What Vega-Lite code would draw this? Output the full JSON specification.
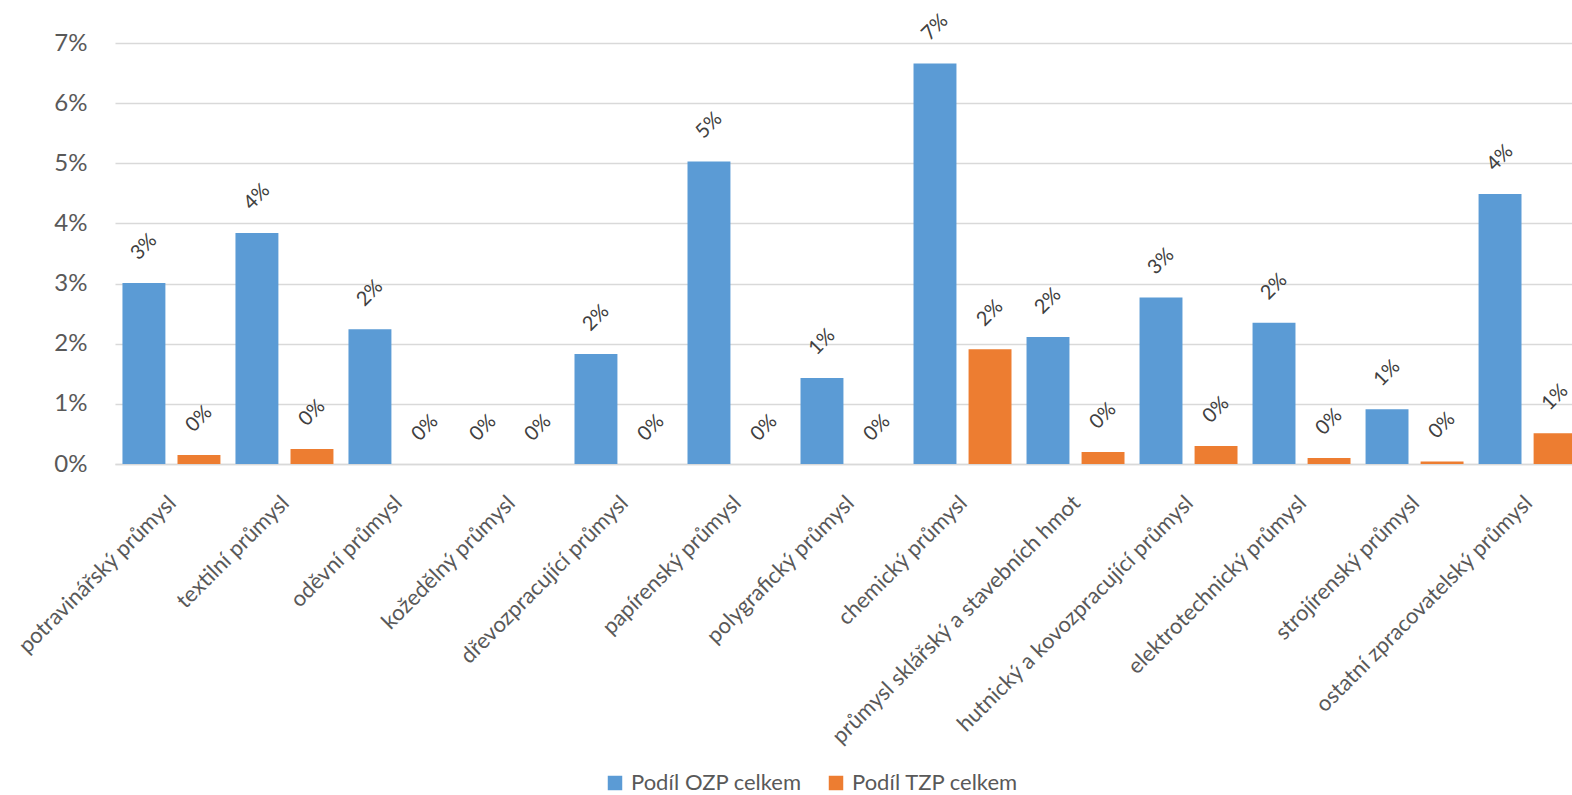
{
  "$schema": "https://vega.github.io/schema/vega-lite/v6.json",
  "width": 1457,
  "height": 421,
  "autosize": {"type": "none"},
  "padding": {"left": 115, "top": 43, "right": 0, "bottom": 331},
  "background": "white",
  "config": {
    "font": "Lato",
    "view": {"stroke": null},
    "legend": {
      "orient": "none",
      "legendX": 489,
      "legendY": 729,
      "direction": "horizontal",
      "title": null,
      "symbolType": "square",
      "symbolSize": 210,
      "symbolStrokeWidth": 0,
      "labelFontSize": 22,
      "labelColor": "#595959",
      "labelFont": "Lato",
      "labelLimit": 400,
      "labelOffset": 5,
      "columnPadding": 23
    }
  },
  "data": {
    "values": [
      {"odvetvi": "potravinářský průmysl", "rada": "Podíl OZP celkem", "hodnota": 0.0301},
      {"odvetvi": "potravinářský průmysl", "rada": "Podíl TZP celkem", "hodnota": 0.0015},
      {"odvetvi": "textilní průmysl", "rada": "Podíl OZP celkem", "hodnota": 0.0384},
      {"odvetvi": "textilní průmysl", "rada": "Podíl TZP celkem", "hodnota": 0.0025},
      {"odvetvi": "oděvní průmysl", "rada": "Podíl OZP celkem", "hodnota": 0.0224},
      {"odvetvi": "oděvní průmysl", "rada": "Podíl TZP celkem", "hodnota": 0.0},
      {"odvetvi": "kožedělný průmysl", "rada": "Podíl OZP celkem", "hodnota": 0.0},
      {"odvetvi": "kožedělný průmysl", "rada": "Podíl TZP celkem", "hodnota": 0.0},
      {"odvetvi": "dřevozpracující průmysl", "rada": "Podíl OZP celkem", "hodnota": 0.0183},
      {"odvetvi": "dřevozpracující průmysl", "rada": "Podíl TZP celkem", "hodnota": 0.0},
      {"odvetvi": "papírenský průmysl", "rada": "Podíl OZP celkem", "hodnota": 0.0503},
      {"odvetvi": "papírenský průmysl", "rada": "Podíl TZP celkem", "hodnota": 0.0},
      {"odvetvi": "polygrafický průmysl", "rada": "Podíl OZP celkem", "hodnota": 0.0143},
      {"odvetvi": "polygrafický průmysl", "rada": "Podíl TZP celkem", "hodnota": 0.0},
      {"odvetvi": "chemický průmysl", "rada": "Podíl OZP celkem", "hodnota": 0.0666},
      {"odvetvi": "chemický průmysl", "rada": "Podíl TZP celkem", "hodnota": 0.0191},
      {"odvetvi": "průmysl sklářský a stavebních hmot", "rada": "Podíl OZP celkem", "hodnota": 0.0211},
      {"odvetvi": "průmysl sklářský a stavebních hmot", "rada": "Podíl TZP celkem", "hodnota": 0.002},
      {"odvetvi": "hutnický a kovozpracující průmysl", "rada": "Podíl OZP celkem", "hodnota": 0.0277},
      {"odvetvi": "hutnický a kovozpracující průmysl", "rada": "Podíl TZP celkem", "hodnota": 0.003},
      {"odvetvi": "elektrotechnický průmysl", "rada": "Podíl OZP celkem", "hodnota": 0.0235},
      {"odvetvi": "elektrotechnický průmysl", "rada": "Podíl TZP celkem", "hodnota": 0.001},
      {"odvetvi": "strojírenský průmysl", "rada": "Podíl OZP celkem", "hodnota": 0.0091},
      {"odvetvi": "strojírenský průmysl", "rada": "Podíl TZP celkem", "hodnota": 0.0004},
      {"odvetvi": "ostatní zpracovatelský průmysl", "rada": "Podíl OZP celkem", "hodnota": 0.0449},
      {"odvetvi": "ostatní zpracovatelský průmysl", "rada": "Podíl TZP celkem", "hodnota": 0.0051}
    ]
  },
  "encoding": {
    "x": {
      "field": "odvetvi",
      "type": "nominal",
      "sort": null,
      "scale": {"range": [0, 1469], "paddingInner": 0.133, "paddingOuter": 0.066},
      "axis": {
        "title": null,
        "labelAngle": 315,
        "labelAlign": "right",
        "labelBaseline": "top",
        "labelFontSize": 22,
        "labelColor": "#595959",
        "labelPadding": 28,
        "labelOffset": -6,
        "labelLimit": 400,
        "ticks": false,
        "tickSize": 0,
        "domainColor": "#d9d9d9",
        "domainWidth": 1.5,
        "grid": false
      }
    },
    "xOffset": {
      "field": "rada",
      "type": "nominal",
      "scale": {"paddingInner": 0.22, "paddingOuter": 0}
    },
    "y": {
      "field": "hodnota",
      "type": "quantitative",
      "scale": {"domain": [0, 0.07], "nice": false},
      "axis": {
        "title": null,
        "format": ".0%",
        "values": [0, 0.01, 0.02, 0.03, 0.04, 0.05, 0.06, 0.07],
        "labelFontSize": 24,
        "labelColor": "#595959",
        "labelPadding": 28,
        "ticks": false,
        "tickSize": 0,
        "domain": false,
        "gridColor": "#d9d9d9",
        "gridWidth": 1.3
      }
    },
    "color": {
      "field": "rada",
      "type": "nominal",
      "scale": {"domain": ["Podíl OZP celkem", "Podíl TZP celkem"], "range": ["#5B9BD5", "#ED7D31"]}
    }
  },
  "layer": [
    {"mark": {"type": "bar"}},
    {
      "mark": {
        "type": "text",
        "angle": 315,
        "align": "center",
        "baseline": "middle",
        "yOffset": -36,
        "fontSize": 20,
        "color": "#404040"
      },
      "encoding": {
        "text": {"field": "hodnota", "type": "quantitative", "format": ".0%"},
        "color": {"value": "#404040"}
      }
    }
  ]
}
